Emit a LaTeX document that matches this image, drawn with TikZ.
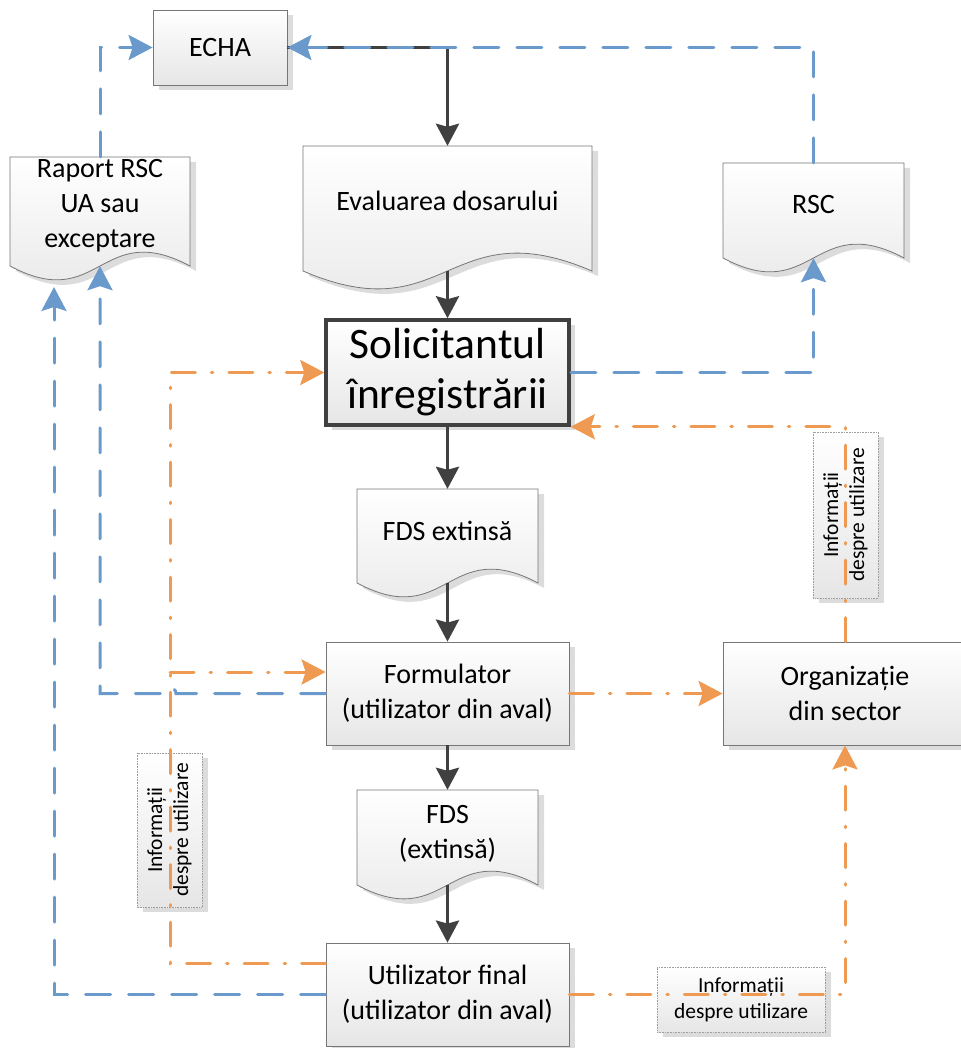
\documentclass[tikz,border=0pt]{standalone}
\usepackage{fontspec}
\setmainfont{Carlito}
\usetikzlibrary{arrows.meta,calc}

\definecolor{flowblue}{HTML}{6A9ACB}
\definecolor{floworange}{HTML}{EE9A52}
\definecolor{flowdark}{HTML}{404040}
\definecolor{boxline}{HTML}{767676}
\definecolor{boxbot}{HTML}{E6E6E6}
\definecolor{shadowc}{HTML}{DCDCDC}

% Document symbol: flat top, wavy bottom. Args: left, top, right, bottom, wave control
\newcommand{\docshape}[5]{%
  \fill[shadowc, xshift=6pt, yshift=-5pt] (#1,#2) -- (#3,#2) -- (#3,#4)
    .. controls ({(#1+#3)/2},{#4-#5}) and ({(#1+#3)/2},{#4+#5}) .. (#1,#4) -- cycle;
  \path[draw=boxline, line width=0.8pt, top color=white, bottom color=boxbot]
    (#1,#2) -- (#3,#2) -- (#3,#4)
    .. controls ({(#1+#3)/2},{#4-#5}) and ({(#1+#3)/2},{#4+#5}) .. (#1,#4) -- cycle;
}

\begin{document}
\begin{tikzpicture}[x=1pt,y=-1pt,
  shadowed/.style={preaction={fill=shadowc, transform canvas={shift={(6pt,-5pt)}}}},
  procbox/.style={shadowed, rectangle, draw=boxline, line width=0.8pt,
    top color=white, bottom color=boxbot, align=center,
    font=\fontsize{28}{35}\selectfont},
  keybox/.style={procbox, draw=flowdark, line width=3.5pt,
    font=\fontsize{43.5}{50}\selectfont},
  docarea/.style={rectangle, inner sep=0pt, draw=none},
  doctext/.style={align=center, font=\fontsize{28}{35}\selectfont},
  infobox/.style={shadowed, rectangle, draw=gray!75, densely dotted, line width=0.6pt,
    top color=white, bottom color=boxbot, inner sep=0pt, align=center,
    font=\fontsize{21.5}{26}\selectfont},
  darkarrow/.style={draw=flowdark, line width=3.5pt,
    -{Stealth[length=22pt,width=23pt,inset=3pt]}},
  bluearrow/.style={draw=flowblue, line width=3pt, line cap=round,
    dash pattern=on 25pt off 18pt,
    -{Stealth[length=24pt,width=25pt,inset=4pt]}},
  orangearrow/.style={draw=floworange, line width=3pt, line cap=round,
    dash pattern=on 24pt off 16pt on 1.5pt off 16pt,
    -{Stealth[length=24pt,width=25pt,inset=4pt]}}
]
\useasboundingbox (0,0) rectangle (960,1048);

% ---- document symbols ----
\docshape{303}{146}{592}{271}{62}
\docshape{10}{157}{190}{266}{48}
\docshape{723}{163}{904}{258}{48}
\docshape{357}{489}{538}{583}{48}
\docshape{357}{790}{538}{885}{48}

\node[docarea, minimum width=289pt, minimum height=125pt] (eval) at (447.5,208.5) {};
\node[docarea, minimum width=180pt, minimum height=109pt] (raport) at (100,211.5) {};
\node[docarea, minimum width=181pt, minimum height=95pt] (rsc) at (813.5,210.5) {};
\node[docarea, minimum width=181pt, minimum height=94pt] (fdsx) at (447.5,536) {};
\node[docarea, minimum width=181pt, minimum height=95pt] (fds) at (447.5,837.5) {};

\node[doctext] (eval-t) at (447.5,201) {Evaluarea dosarului};
\node[doctext] (raport-t) at (100,206) {Raport RSC\\UA sau\\exceptare};
\node[doctext] (rsc-t) at (813.5,205) {RSC};
\node[doctext] (fdsx-t) at (447.5,531) {FDS extinsă};
\node[doctext] (fds-t) at (447.5,834) {FDS\\(extinsă)};

% ---- process boxes ----
\node[procbox, minimum width=134pt, minimum height=75pt] (echa) at (220,47.5) {ECHA};
\node[keybox, minimum width=243pt, minimum height=105pt] (sol) at (447.5,372.5)
  {Solicitantul\\înregistrării};
\node[procbox, minimum width=243pt, minimum height=103pt] (form) at (447.5,693.5)
  {Formulator\\(utilizator din aval)};
\node[procbox, minimum width=244pt, minimum height=103pt] (org) at (845,693.5)
  {Organizație\\din sector};
\node[procbox, minimum width=243pt, minimum height=103pt] (util) at (447.5,994.5)
  {Utilizator final\\(utilizator din aval)};

% ---- connector labels ----
\node[infobox, rotate=90, minimum width=154pt, minimum height=65pt] (info1) at (169.5,830)
  {Informații\\despre utilizare};
\node[infobox, rotate=90, minimum width=166pt, minimum height=65pt] (info2) at (845.5,515)
  {Informații\\despre utilizare};
\node[infobox, minimum width=168pt, minimum height=65pt] (info3) at (741,999.5)
  {Informații\\despre utilizare};

\coordinate (rapfoot) at (54,287);

% ---- main flow ----
\draw[darkarrow] (echa.east) -| (eval.north);
\draw[darkarrow] (eval.south) -- (sol.north);
\draw[darkarrow] (sol.south) -- (fdsx.north);
\draw[darkarrow] (fdsx.south) -- (form.north);
\draw[darkarrow] (form.south) -- (fds.north);
\draw[darkarrow] (fds.south) -- (util.north);

% ---- reports (blue, dashed) ----
\draw[bluearrow] (rsc.north) |- (echa.east);
\draw[bluearrow] (sol.east) -| (rsc.south);
\draw[bluearrow] (raport.north) |- (echa.west);
\draw[bluearrow] (form.west) -- (176,693.5) arc[start angle=0, end angle=-180, radius=6]
  -- (raport.south |- form.west) -- (raport.south);
\draw[bluearrow] (util.west) -| (rapfoot);

% ---- use information (orange, dash-dot) ----
\draw[orangearrow] ($(util.west)+(0,-31.5)$) -- (170,963) -- (170,372.5) -- (sol.west);
\draw[orangearrow] (170,672) -- ($(form.west)+(0,-21.5)$);
\draw[orangearrow] (form.east) -- (org.west);
\draw[orangearrow] (org.north) |- (sol.south east);
\draw[orangearrow] (util.east) -| (org.south);
\end{tikzpicture}
\end{document}
